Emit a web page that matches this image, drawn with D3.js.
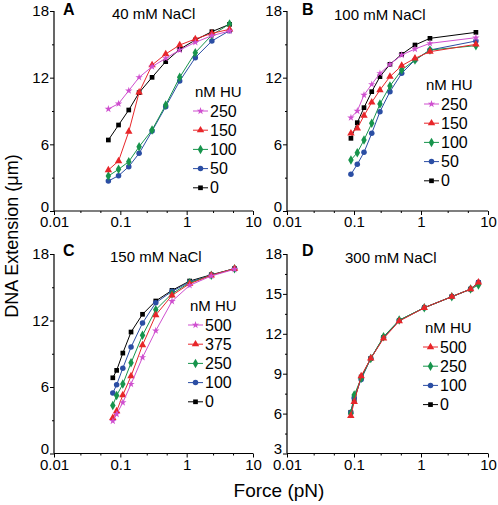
<!DOCTYPE html>
<html><head><meta charset="utf-8">
<script src="https://cdn.jsdelivr.net/npm/d3@7"></script>
<style>body{margin:0;background:#fff}svg{display:block}text{font-family:"Liberation Sans",Arial,sans-serif}</style>
</head><body>
<script>
// ---- data ----
const hueColors = {mag:"#cf4fcf", red:"#e8262a", green:"#17944c", blue:"#2b4ea4", black:"#000000"};

const forceA = [0.066, 0.094, 0.134, 0.192, 0.301, 0.483, 0.785, 1.35, 2.40, 4.43];
const extA_250 = [9.18, 9.66, 10.83, 12.03, 12.99, 13.74, 14.49, 15.18, 15.78, 16.2];
const extA_150 = [3.69, 4.5, 7.14, 10.68, 13.14, 14.13, 14.94, 15.48, 15.99, 16.35];
const extA_100 = [3.15, 3.75, 4.44, 5.79, 7.29, 9.54, 12.03, 14.25, 15.84, 16.83];
const extA_50  = [2.7, 3.18, 3.99, 5.19, 7.2, 9.39, 11.7, 13.8, 15.3, 16.23];
const extA_0   = [6.39, 7.74, 9.09, 10.65, 12.03, 13.44, 14.55, 15.39, 16.14, 16.8];

const forceB = [0.090, 0.112, 0.141, 0.184, 0.244, 0.344, 0.515, 0.813, 1.36, 6.6];
const extB_250 = [8.4, 9.0, 10.44, 11.4, 12.39, 13.2, 14.04, 14.58, 15.09, 15.6];
const extB_150 = [6.99, 7.44, 8.58, 9.78, 10.89, 12.09, 13.08, 13.74, 14.34, 15.0];
const extB_100 = [4.59, 5.25, 6.39, 7.89, 9.63, 11.25, 12.69, 13.59, 14.49, 14.88];
const extB_50  = [3.3, 4.2, 5.28, 6.99, 8.94, 10.74, 12.39, 13.59, 14.49, 15.3];
const extB_0   = [6.54, 7.95, 9.3, 10.74, 12.09, 13.2, 14.1, 14.94, 15.54, 16.08];

const forceC = [0.077, 0.088, 0.109, 0.145, 0.216, 0.342, 0.601, 1.109, 2.35, 5.27];
const extC_500 = [2.92, 3.55, 4.6, 6.26, 8.67, 11.08, 13.73, 15.17, 16.02, 16.62];
const extC_375 = [3.22, 3.82, 5.27, 6.98, 9.78, 12.49, 14.27, 15.32, 16.08, 16.68];
const extC_250 = [4.34, 5.24, 6.26, 8.18, 10.66, 12.97, 14.42, 15.41, 16.08, 16.68];
const extC_100 = [5.45, 6.2, 7.7, 9.6, 11.77, 13.6, 14.63, 15.47, 16.08, 16.68];
const extC_0   = [6.83, 7.5, 9.06, 10.96, 12.56, 13.76, 14.72, 15.56, 16.13, 16.68];

const forceD = [0.0896, 0.1007, 0.128, 0.178, 0.276, 0.473, 1.12, 2.88, 5.5, 7.2];
const extD_500 = [5.83, 6.88, 8.82, 10.15, 11.65, 12.95, 13.96, 14.79, 15.36, 15.87];
const extD_250 = [6.0, 7.39, 8.65, 10.15, 11.78, 13.03, 13.96, 14.79, 15.36, 15.66];
const extD_100 = [6.08, 7.2, 8.57, 10.15, 11.72, 13.0, 13.96, 14.79, 15.36, 15.87];
const extD_0   = [6.1, 7.0, 8.75, 10.15, 11.72, 13.0, 13.96, 14.79, 15.36, 15.85];

const xMajorTicks = [0.01, 0.1, 1, 10];
const xTickLabels = ["0.01", "0.1", "1", "10"];
const yTicks18 = [0, 6, 12, 18];
const yTicksD = [3, 6, 9, 12, 15, 18];

// ---- layout ----
const W = 498, H = 505;
const svg = d3.select("body").append("svg").attr("width", W).attr("height", H);

const panels = [
  {letter:"A", title:"40 mM NaCl", xr:[54,253], yr:[211,11], yd:[0,18], yt:yTicks18, ym:[3,9,15],
   force:forceA, legendX:193, legendY:97,
   series:[{lab:"250",c:"mag",s:"star",v:extA_250},{lab:"150",c:"red",s:"tri",v:extA_150},{lab:"100",c:"green",s:"dia",v:extA_100},{lab:"50",c:"blue",s:"cir",v:extA_50},{lab:"0",c:"black",s:"sq",v:extA_0}],
   titleX:112, titleY:19, letterX:63, letterY:15},
  {letter:"B", title:"100 mM NaCl", xr:[287,488], yr:[211,11], yd:[0,18], yt:yTicks18, ym:[3,9,15],
   force:forceB, legendX:424, legendY:90,
   series:[{lab:"250",c:"mag",s:"star",v:extB_250},{lab:"150",c:"red",s:"tri",v:extB_150},{lab:"100",c:"green",s:"dia",v:extB_100},{lab:"50",c:"blue",s:"cir",v:extB_50},{lab:"0",c:"black",s:"sq",v:extB_0}],
   titleX:334, titleY:20, letterX:302, letterY:15},
  {letter:"C", title:"150 mM NaCl", xr:[54,253], yr:[453.5,254], yd:[0,18], yt:yTicks18, ym:[3,9,15],
   force:forceC, legendX:188, legendY:311,
   series:[{lab:"500",c:"mag",s:"star",v:extC_500},{lab:"375",c:"red",s:"tri",v:extC_375},{lab:"250",c:"green",s:"dia",v:extC_250},{lab:"100",c:"blue",s:"cir",v:extC_100},{lab:"0",c:"black",s:"sq",v:extC_0}],
   titleX:110, titleY:262, letterX:63, letterY:256},
  {letter:"D", title:"300 mM NaCl", xr:[287,488], yr:[453.5,254], yd:[3,18], yt:yTicksD, ym:[4.5,7.5,10.5,13.5,16.5],
   force:forceD, legendX:423, legendY:333,
   series:[{lab:"500",c:"red",s:"tri",v:extD_500},{lab:"250",c:"green",s:"dia",v:extD_250},{lab:"100",c:"blue",s:"cir",v:extD_100},{lab:"0",c:"black",s:"sq",v:extD_0}],
   titleX:345, titleY:263, letterX:302, letterY:256}
];

const symTypes = {star:d3.symbolStar, tri:d3.symbolTriangle, dia:d3.symbolDiamond, cir:d3.symbolCircle, sq:d3.symbolSquare};
const symSizes = {star:17, tri:24, dia:26, cir:24, sq:22};

const xMinor = [];
[0.01,0.1,1].forEach(d => { xMinor.push(d*2.5, d*5); });

panels.forEach(p => {
  const x = d3.scaleLog().domain([0.01,10]).range(p.xr);
  const y = d3.scaleLinear().domain(p.yd).range(p.yr);
  const g = svg.append("g");

  // axes
  const xAxis = d3.axisBottom(x).tickValues(xMajorTicks).tickFormat((d,i)=>xTickLabels[i]).tickSize(4).tickPadding(1);
  const gx = g.append("g").attr("transform",`translate(0,${p.yr[0]})`).call(xAxis);
  const gxm = g.append("g").attr("transform",`translate(0,${p.yr[0]})`).call(d3.axisBottom(x).tickValues(xMinor).tickFormat("").tickSize(2));
  gxm.select(".domain").remove();
  const yAxis = d3.axisLeft(y).tickValues(p.yt).tickFormat(d3.format("d")).tickSize(4).tickPadding(1);
  const gy = g.append("g").attr("transform",`translate(${p.xr[0]},0)`).call(yAxis);
  const gym = g.append("g").attr("transform",`translate(${p.xr[0]},0)`).call(d3.axisLeft(y).tickValues(p.ym).tickFormat("").tickSize(2));
  gym.select(".domain").remove();
  [gx,gxm,gy,gym].forEach(a => {
    a.selectAll(".domain").attr("stroke","#000").attr("stroke-width",1.2);
    a.selectAll(".tick line").attr("stroke","#000").attr("stroke-width",1);
    a.selectAll(".tick text").attr("font-size",15).attr("fill","#000").attr("font-family","Liberation Sans, Arial");
  });
  gx.selectAll(".domain").attr("d", `M${p.xr[0]},0H${p.xr[1]}`);
  gy.selectAll(".domain").attr("d", `M0,${p.yr[0]}V${p.yr[1]}`);
  // lift the bottom y label so it does not collide with the first x label
  gy.selectAll(".tick text").filter((d,i)=>i===0).attr("dy","0.02em");
  gx.selectAll(".tick text").attr("dy","0.75em");

  // series: draw bottom legend entry first
  const line = d3.line().x(d=>x(d[0])).y(d=>y(d[1]));
  p.series.slice().reverse().forEach(s => {
    const pts = p.force.map((f,i)=>[f, s.v[i]]);
    const col = hueColors[s.c];
    g.append("path").attr("d", line(pts)).attr("fill","none").attr("stroke",col).attr("stroke-width",1);
    g.selectAll(null).data(pts).enter().append("path")
      .attr("d", d3.symbol().type(symTypes[s.s]).size(symSizes[s.s]))
      .attr("transform", d=>`translate(${x(d[0])},${y(d[1])})`)
      .attr("fill", col);
  });

  // title & letter
  g.append("text").attr("x",p.letterX).attr("y",p.letterY).attr("font-size",16).attr("font-weight","bold").text(p.letter);
  g.append("text").attr("x",p.titleX).attr("y",p.titleY).attr("font-size",15).text(p.title);

  // legend
  const lg = g.append("g");
  lg.append("text").attr("x",p.legendX+2).attr("y",p.legendY).attr("font-size",15).text("nM HU");
  p.series.forEach((s,i) => {
    const cy = p.legendY + 14 + i*19.2;
    const col = hueColors[s.c];
    lg.append("line").attr("x1",p.legendX).attr("x2",p.legendX+15).attr("y1",cy).attr("y2",cy).attr("stroke",col).attr("stroke-width",1);
    lg.append("path").attr("d", d3.symbol().type(symTypes[s.s]).size(symSizes[s.s])()).attr("transform",`translate(${p.legendX+7.5},${cy})`).attr("fill",col);
    lg.append("text").attr("x",p.legendX+17).attr("y",cy+5.5).attr("font-size",16).text(s.lab);
  });
});

// axis titles
svg.append("text").attr("transform","translate(18,236) rotate(-90)").attr("text-anchor","middle").attr("font-size",18).text("DNA Extension (\u03bcm)");
svg.append("text").attr("x",279).attr("y",497).attr("text-anchor","middle").attr("font-size",19).text("Force (pN)");
</script>
</body></html>
